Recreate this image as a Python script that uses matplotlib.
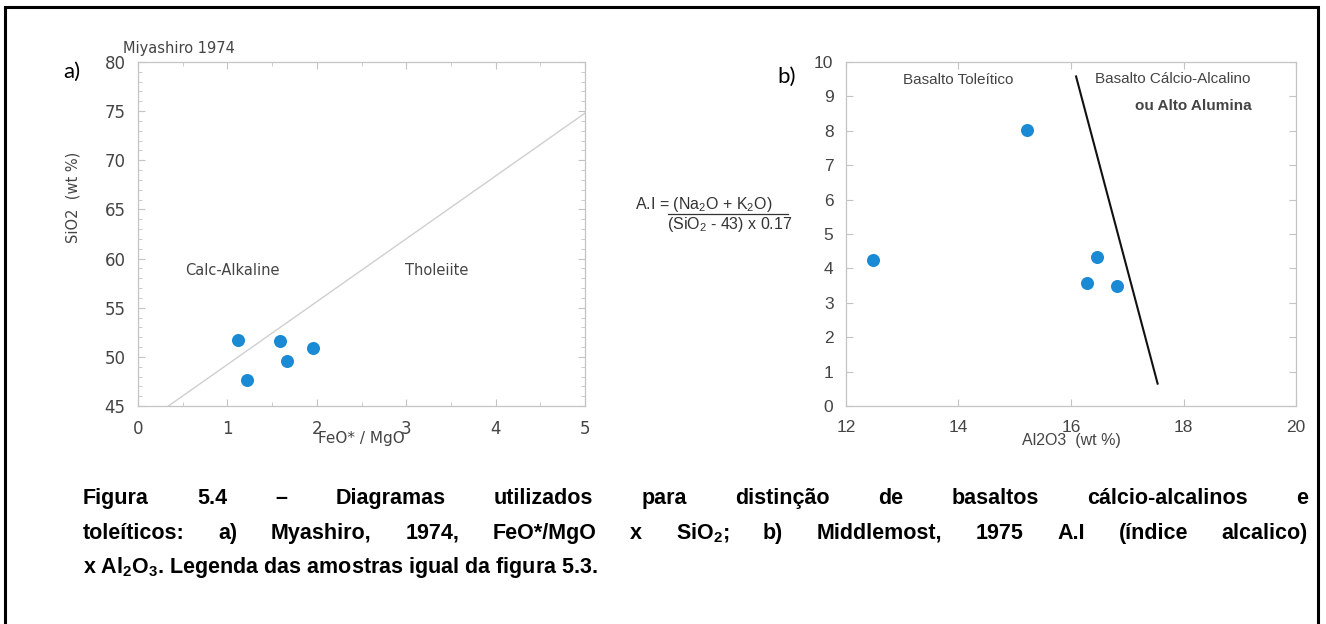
import matplotlib
matplotlib.use('Agg')
import matplotlib.pyplot as plt
from matplotlib import font_manager
from matplotlib.patches import Rectangle
from matplotlib.ticker import MultipleLocator

W, H = 1326, 624
DPI = 100

# Miyashiro (1974): FeO*/MgO x SiO2
feo_mgo = [1.12, 1.22, 1.59, 1.67, 1.96]
sio2 = [51.7, 47.6, 51.6, 49.6, 50.9]
miyashiro_x = [0.34, 5.0]
miyashiro_y = [45.0, 74.8]

# Middlemost (1975): Al2O3 x A.I
al2o3 = [12.48, 15.22, 16.46, 16.29, 16.81]
alk_index = [4.23, 8.03, 4.33, 3.59, 3.48]
middlemost_x = [16.09, 17.54]
middlemost_y = [9.58, 0.65]

caption_lines = [
    "Figura 5.4 – Diagramas utilizados para distinção de basaltos cálcio-alcalinos e",
    "toleíticos: a) Myashiro, 1974, FeO*/MgO x SiO$_2$; b) Middlemost, 1975 A.I (índice alcalico)",
    "x Al$_2$O$_3$. Legenda das amostras igual da figura 5.3.",
]

names = {f.name for f in font_manager.fontManager.ttflist}
narrow = 'Liberation Sans Narrow' if 'Liberation Sans Narrow' in names else 'Liberation Sans'
plt.rcParams['font.family'] = 'DejaVu Sans'
plt.rcParams['mathtext.default'] = 'regular'

dot = '#1a8ad4'
grey_txt = '#444444'
grey_axis = '#c4c4c4'


def px(x, y):
    return x / W, 1 - y / H


fig = plt.figure(figsize=(W / DPI, H / DPI), dpi=DPI)
fig.patch.set_facecolor('white')

# outer frame
fig.patches.append(Rectangle(px(5, 660), 1313 / W, 653 / H, transform=fig.transFigure,
                             fill=False, edgecolor='black', linewidth=2.2))

# --- a) Miyashiro ---
ax1 = fig.add_axes([138 / W, 1 - 406 / H, 447 / W, 344 / H])
ax1.set_xlim(0, 5)
ax1.set_ylim(45, 80)
ax1.xaxis.set_major_locator(MultipleLocator(1))
ax1.xaxis.set_minor_locator(MultipleLocator(0.5))
ax1.yaxis.set_major_locator(MultipleLocator(5))
ax1.yaxis.set_minor_locator(MultipleLocator(1))
ax1.plot(miyashiro_x, miyashiro_y, color='#cfcfcf', linewidth=1.0)
ax1.scatter(feo_mgo, sio2, s=88, color=dot, zorder=3, linewidths=0)
ax1.text(1.06, 58.8, 'Calc-Alkaline', ha='center', va='center', fontsize=10.5, color=grey_txt)
ax1.text(3.34, 58.8, 'Tholeiite', ha='center', va='center', fontsize=10.5, color=grey_txt)
ax1.tick_params(which='both', direction='in', top=True, right=True, color=grey_axis,
                labelsize=12, labelcolor=grey_txt)
ax1.tick_params(which='major', length=5, width=0.8)
ax1.tick_params(which='minor', length=3, width=0.6)
ax1.tick_params(axis='x', pad=10)
ax1.tick_params(axis='y', pad=9)
for s in ax1.spines.values():
    s.set_color(grey_axis)
    s.set_linewidth(0.9)

fig.text(*px(361, 438), 'FeO* / MgO', ha='center', va='center', fontsize=11, color=grey_txt)
fig.text(*px(73, 197), 'SiO2  (wt %)', ha='center', va='center', rotation=90,
         fontsize=10.5, color=grey_txt)
fig.text(*px(123, 48), 'Miyashiro 1974', ha='left', va='center', fontsize=10.5, color=grey_txt)
fig.text(*px(63, 72), 'a)', ha='left', va='center', fontsize=16, family='Lato', color='black')

# --- b) Middlemost ---
ax2 = fig.add_axes([846 / W, 1 - 406 / H, 450 / W, 344 / H])
ax2.set_xlim(12, 20)
ax2.set_ylim(0, 10)
ax2.xaxis.set_major_locator(MultipleLocator(2))
ax2.yaxis.set_major_locator(MultipleLocator(1))
ax2.plot(middlemost_x, middlemost_y, color='#111111', linewidth=1.5)
ax2.scatter(al2o3, alk_index, s=88, color=dot, zorder=3, linewidths=0)
ax2.text(14.0, 9.48, 'Basalto Toleítico', ha='center', va='center', fontsize=11,
         family=narrow, color=grey_txt)
ax2.text(17.8, 9.5, 'Basalto Cálcio-Alcalino', ha='center', va='center', fontsize=11,
         family=narrow, color=grey_txt)
ax2.text(18.17, 8.72, 'ou Alto Alumina', ha='center', va='center', fontsize=11,
         family=narrow, fontweight='bold', color=grey_txt)
ax2.tick_params(which='both', direction='in', top=True, right=True, color=grey_axis,
                length=5, width=0.8, labelsize=12.5, labelcolor=grey_txt)
ax2.tick_params(axis='x', pad=10)
ax2.tick_params(axis='y', pad=9)
for lab in ax2.get_xticklabels() + ax2.get_yticklabels():
    lab.set_family(narrow)
for s in ax2.spines.values():
    s.set_color(grey_axis)
    s.set_linewidth(0.9)

fig.text(*px(1071, 441), 'Al2O3  (wt %)', ha='center', va='center', fontsize=11.5,
         family=narrow, color=grey_txt)
fig.text(*px(777, 77), 'b)', ha='left', va='center', fontsize=16, family='Lato', color='black')

# alkali index formula
fig.text(*px(635, 205), 'A.I = (Na$_2$O + K$_2$O)', ha='left', va='center', fontsize=11.5,
         family=narrow, color='#333333')
fig.add_artist(plt.Line2D([668 / W, 788 / W], [1 - 214 / H, 1 - 214 / H], color='#333333',
                          linewidth=0.9, transform=fig.transFigure))
fig.text(*px(667, 224), '(SiO$_2$ - 43) x 0.17', ha='left', va='center', fontsize=11.5,
         family=narrow, color='#333333')

# caption, first two lines justified
cap_kw = dict(fontsize=15.5, family='Liberation Sans', fontweight='bold', color='black',
              ha='left', va='baseline')
renderer = fig.canvas.get_renderer()
x_left, x_right = 83, 1308
baselines = [504, 539, 573]
for i, line in enumerate(caption_lines):
    if i < 2:
        words = line.split(' ')
        texts = [fig.text(0, 0, w, **cap_kw) for w in words]
        widths = [t.get_window_extent(renderer).width for t in texts]
        gap = (x_right - x_left - sum(widths)) / (len(words) - 1)
        x = x_left
        for t, w in zip(texts, widths):
            t.set_position(px(x, baselines[i]))
            x += w + gap
    else:
        fig.text(*px(x_left, baselines[i]), line, **cap_kw)

fig.savefig('out.png', dpi=DPI, facecolor='white')
